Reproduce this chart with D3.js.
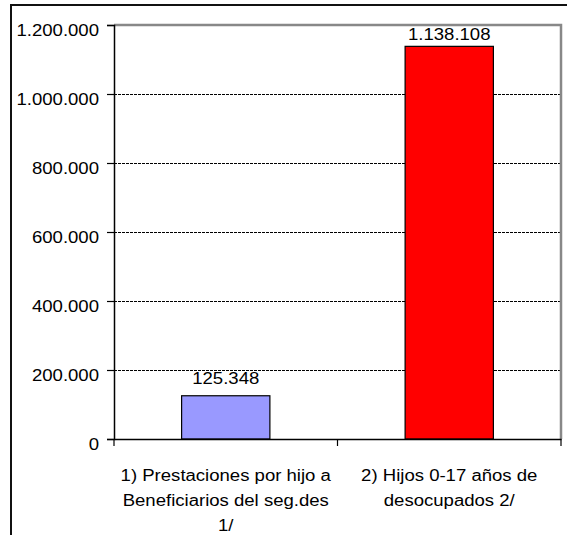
<!DOCTYPE html>
<html>
<head>
<meta charset="utf-8">
<script src="https://cdn.jsdelivr.net/npm/d3@7"></script>
<style>
  html, body { margin: 0; padding: 0; background: #fff; }
  svg { display: block; font-family: "Liberation Sans", Arial, sans-serif; }
</style>
</head>
<body>
<svg id="chart" width="567" height="535"></svg>
<script>
// Chart data
const categories = [
  ["1) Prestaciones por hijo a", "Beneficiarios del seg.des", "1/"],
  ["2) Hijos 0-17 años de", "desocupados 2/"]
];
const values = [125348, 1138108];
const barColors = ["#9999FF", "#FF0000"];
const yTicks = [0, 200000, 400000, 600000, 800000, 1000000, 1200000];

const svg = d3.select("#chart");
const plot = { left: 114, top: 25, right: 561, bottom: 439 };
const TXT_SCALE = 1.16;   // widened glyphs
const FONT = 16;

const esLocale = d3.formatLocale({ decimal: ",", thousands: ".", grouping: [3], currency: ["", ""] });
const fmt = esLocale.format(",");

const x = d3.scaleBand()
  .domain(d3.range(values.length))
  .range([plot.left, plot.right])
  .paddingInner(0)
  .paddingOuter(0);
const barW = x.bandwidth() * 0.395;

const y = d3.scaleLinear().domain([0, 1200000]).range([plot.bottom, plot.top]);

// Outer frame (top and left edges)
svg.append("path")
  .attr("d", `M11,535 L11,5 L567,5`)
  .attr("fill", "none").attr("stroke", "#111").attr("stroke-width", 2);

// Dashed gridlines
svg.append("g").selectAll("line")
  .data(yTicks.filter(d => d > 0))
  .join("line")
  .attr("x1", plot.left).attr("x2", plot.right)
  .attr("y1", d => Math.round(y(d)) + 0.5).attr("y2", d => Math.round(y(d)) + 0.5)
  .attr("stroke", "#000").attr("stroke-width", 1).attr("stroke-dasharray", "3,1");

// Plot area border (top and right)
svg.append("path")
  .attr("d", `M${plot.left},${plot.top} L${plot.right},${plot.top} L${plot.right},${plot.bottom}`)
  .attr("fill", "none").attr("stroke", "#888").attr("stroke-width", 2.5);

// Bars
svg.append("g").selectAll("rect")
  .data(values)
  .join("rect")
  .attr("x", (d, i) => x(i) + (x.bandwidth() - barW) / 2)
  .attr("y", d => y(d))
  .attr("width", barW)
  .attr("height", d => y(0) - y(d))
  .attr("fill", (d, i) => barColors[i])
  .attr("stroke", "#000").attr("stroke-width", 1.2);

// Value labels
function wideText(g, tx, ty, str, anchor) {
  return g.append("text")
    .attr("transform", `translate(${tx},${ty}) scale(${TXT_SCALE},1)`)
    .attr("text-anchor", anchor)
    .attr("font-size", FONT)
    .attr("fill", "#000")
    .text(str);
}
const labels = svg.append("g");
values.forEach((v, i) => {
  const cx = x(i) + x.bandwidth() / 2;
  const by = Math.max(y(v) - 11.5, plot.top + 15);
  wideText(labels, cx, by, fmt(v), "middle");
});

// Y axis
const yAxis = svg.append("g")
  .attr("transform", `translate(${plot.left},0)`)
  .call(d3.axisLeft(y).tickValues(yTicks).tickSize(7).tickPadding(15).tickFormat(fmt));
yAxis.select(".domain").attr("stroke", "#000").attr("stroke-width", 1.5);
yAxis.selectAll(".tick line").attr("stroke", "#000").attr("stroke-width", 1.2);
yAxis.selectAll(".tick text")
  .attr("x", null).attr("dy", null)
  .attr("transform", `translate(-15,10) scale(${TXT_SCALE},1)`)
  .attr("font-family", "'Liberation Sans', Arial, sans-serif")
  .attr("font-size", FONT).attr("fill", "#000");

// X axis
const xAxis = svg.append("g")
  .attr("transform", `translate(0,${plot.bottom})`)
  .call(d3.axisBottom(x).tickValues([]).tickSizeOuter(0));
xAxis.select(".domain").attr("stroke", "#000").attr("stroke-width", 1.5);
const bounds = [plot.left, x(1), plot.right];
xAxis.selectAll(".sep").data(bounds).join("line")
  .attr("class", "sep")
  .attr("x1", d => d).attr("x2", d => d)
  .attr("y1", 0).attr("y2", 7)
  .attr("stroke", "#000").attr("stroke-width", 1.2);

// Category labels
const catG = svg.append("g");
categories.forEach((lines, i) => {
  const cx = x(i) + x.bandwidth() / 2;
  lines.forEach((ln, j) => {
    wideText(catG, cx, 481 + j * 25, ln, "middle");
  });
});
</script>
</body>
</html>
